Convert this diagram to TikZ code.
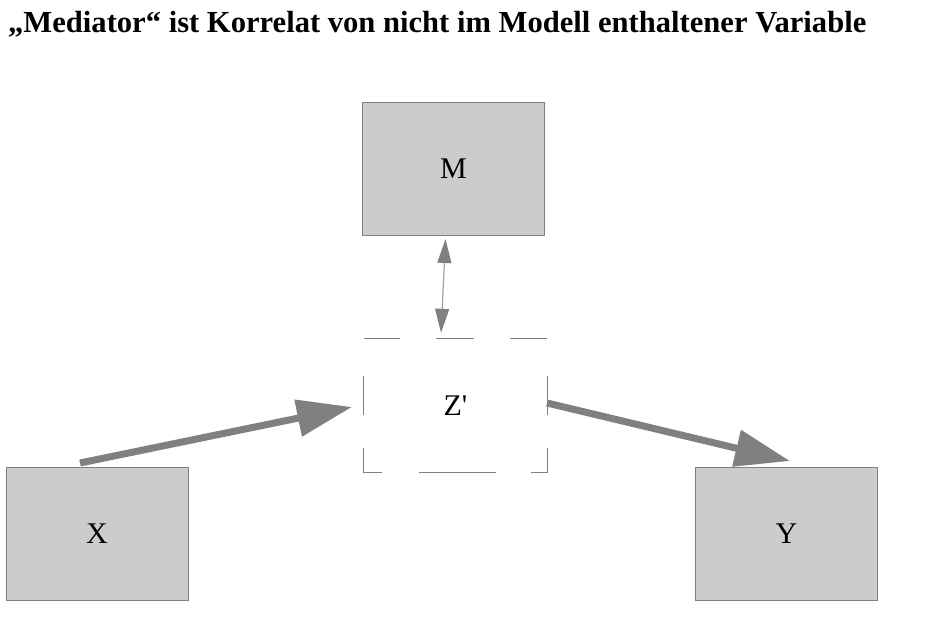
\documentclass[tikz,border=0pt]{standalone}
\usepackage{fontspec}
\setmainfont{Liberation Serif}
\newfontfamily\plainserif[Ligatures=TeXOff]{Liberation Serif}
\usetikzlibrary{arrows.meta}
\definecolor{boxfill}{HTML}{CCCCCC}
\definecolor{boxline}{HTML}{808080}
\definecolor{arrowgray}{HTML}{808080}
\definecolor{thingray}{HTML}{A0A0A0}
\tikzset{
  varbox/.style={draw=boxline, fill=boxfill, line width=1pt, minimum width=182pt, minimum height=133pt, inner sep=0pt, font=\fontsize{30}{34}\selectfont},
  ghost/.style={minimum width=183pt, minimum height=133pt, inner sep=0pt, font=\plainserif\fontsize{30}{34}\selectfont},
  dashseg/.style={draw=boxline, line width=1pt},
  bigarrow/.style={draw=arrowgray, line width=7pt, -{Triangle[length=55pt,width=36pt]}},
  thinarrow/.style={draw=thingray, line width=1.2pt, {Triangle[length=24pt,width=14pt,color=arrowgray]}-{Triangle[length=24pt,width=14pt,color=arrowgray]}}
}
\begin{document}
\begin{tikzpicture}[x=1pt,y=-1pt]
\useasboundingbox (0,0) rectangle (925,616);
\fill[white] (0,0) rectangle (925,616);
\node[anchor=west, inner sep=0pt] (title) at (8,24) {\resizebox{858pt}{!}{\bfseries „Mediator“ ist Korrelat von nicht im Modell enthaltener Variable}};
\node[varbox] (M) at (453.5,169) {M};
\node[varbox] (X) at (97,533.5) {X};
\node[varbox] (Y) at (786.5,533.5) {Y};
\node[ghost] (Z) at (455.5,405.5) {Z'};
% dashed outline of Z'
\draw[dashseg] (Z.north west) -- ++(36,0);
\draw[dashseg] ([xshift=72pt]Z.north west) -- ++(38,0);
\draw[dashseg] ([xshift=146pt]Z.north west) -- (Z.north east);
\draw[dashseg] ([yshift=-37pt]Z.north west) -- ++(0,39);
\draw[dashseg] ([yshift=24pt]Z.south west) -- (Z.south west) -- ++(18,0);
\draw[dashseg] ([xshift=55pt]Z.south west) -- ++(77,0);
\draw[dashseg] ([xshift=-16pt]Z.south east) -- (Z.south east) -- ++(0,-24);
\draw[dashseg] ([yshift=-37pt]Z.north east) -- ++(0,39);
% connectors
\coordinate (xs) at (80,463);
\coordinate (zt) at (352,407);
\coordinate (zs) at (547,403);
\coordinate (yt) at (790,461);
\draw[bigarrow] (xs) -- (zt);
\draw[bigarrow] (zs) -- (yt);
\draw[thinarrow] ([xshift=-8pt,yshift=-3pt]M.south) -- ([xshift=-14.5pt,yshift=6pt]Z.north);
\end{tikzpicture}
\end{document}
